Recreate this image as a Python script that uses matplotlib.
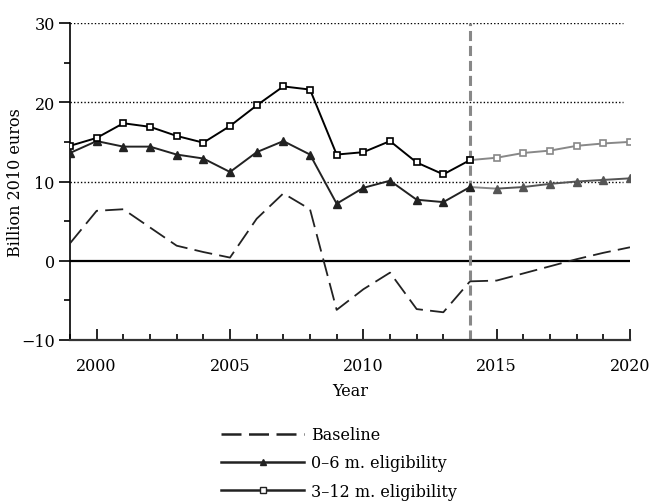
import numpy as np
import matplotlib.pyplot as plt
from matplotlib.lines import Line2D

plt.rcParams['font.family'] = ['DejaVu Serif']
plt.rcParams['font.size'] = 11.5

years = list(range(1999, 2021))
split_year = 2014

baseline = [2.2, 6.3, 6.5, 4.2, 1.9, 1.1, 0.4, 5.3, 8.5, 6.5,
            -6.2, -3.6, -1.5, -6.1, -6.5, -2.6,
            -2.5, -1.6, -0.7, 0.2, 1.0, 1.7]
elig_0_6 = [13.6, 15.1, 14.4, 14.4, 13.4, 12.9, 11.2, 13.7, 15.1, 13.4,
            7.2, 9.2, 10.1, 7.7, 7.4, 9.3,
            9.1, 9.3, 9.7, 10.0, 10.2, 10.4]
elig_3_12 = [14.5, 15.5, 17.35, 16.9, 15.75, 14.9, 17.0, 19.6, 22.0, 21.6,
             13.4, 13.7, 15.1, 12.4, 10.9, 12.7,
             13.0, 13.6, 13.9, 14.5, 14.8, 15.0]
grid_levels = [10, 20, 30]

x = np.array(years)
i0 = years.index(split_year)
past = slice(0, i0 + 1)
fut = slice(i0, None)

fig = plt.figure(figsize=(6.51, 5.02), dpi=100)
ax = fig.add_axes([70/651, 1 - 341/502, 560/651, 317/502])

# gridlines and zero line
ax.hlines(grid_levels, 1999, 2019.75, colors='black', linestyles=(0, (1, 1.5)), lw=1.0, zorder=1)
ax.axhline(0, color='black', lw=1.6, zorder=1)
ax.axvline(split_year, color='#888888', lw=2.2, dashes=(3.3, 1.6), zorder=2)

# baseline
ax.plot(x[past], np.array(baseline)[past], color='#222222', lw=1.3, dashes=(10, 4), zorder=3)
ax.plot(x[fut], np.array(baseline)[fut], color='#222222', lw=1.3, dashes=(10, 4), zorder=3)

# 0-6 m eligibility
ax.plot(x[past], np.array(elig_0_6)[past], color='#222222', lw=1.4, marker='^',
        ms=6, mfc='#222222', mec='#222222', zorder=4)
ax.plot(x[fut][1:], np.array(elig_0_6)[fut][1:], color='#555555', lw=1.4, marker='^',
        ms=6, mfc='#555555', mec='#555555', zorder=4)
ax.plot(x[fut][:2], np.array(elig_0_6)[fut][:2], color='#888888', lw=1.4, zorder=3)

# 3-12 m eligibility
ax.plot(x[fut], np.array(elig_3_12)[fut], color='#888888', lw=1.4, marker='s',
        ms=5, mfc='white', mec='#888888', mew=1.2, zorder=4)
ax.plot(x[past], np.array(elig_3_12)[past], color='black', lw=1.4, marker='s',
        ms=5, mfc='white', mec='black', mew=1.2, zorder=5)

ax.set_xlim(1999, 2020)
ax.set_ylim(-10, 30)
ax.set_xticks([2000, 2005, 2010, 2015, 2020])
ax.set_xticks(range(1999, 2021), minor=True)
ax.set_yticks([-10, 0, 10, 20, 30])
ax.set_yticks([-5, 5, 15, 25], minor=True)
ax.tick_params(axis='x', which='major', direction='in', length=8, width=1.2, pad=12)
ax.tick_params(axis='x', which='minor', direction='in', length=4, width=1.2)
ax.tick_params(axis='y', which='major', direction='out', length=8, width=1.2, pad=3)
ax.tick_params(axis='y', which='minor', direction='out', length=4, width=1.2)
for s in ['top', 'right']:
    ax.spines[s].set_visible(False)
ax.spines['left'].set_linewidth(1.2)
ax.spines['bottom'].set_linewidth(1.6)
ax.spines['bottom'].set_color('#333333')

ax.set_xlabel('Year', labelpad=6)
ax.set_ylabel('Billion 2010 euros')
ax.yaxis.set_label_coords(-0.082, 0.5)

handles = [
    Line2D([], [], color='#222222', lw=1.8, dashes=(8, 3)),
    Line2D([], [], color='#222222', lw=1.8, marker='^', ms=5, markevery=[1]),
    Line2D([], [], color='#222222', lw=1.8, marker='s', ms=5, mfc='white', markevery=[1]),
]
fig.legend(handles, ['Baseline', '0\u20136 m. eligibility', '3\u201312 m. eligibility'],
           loc='center', bbox_to_anchor=(339/651, 1 - 464/502), frameon=False,
           handlelength=5.2, labelspacing=0.7, handletextpad=0.4)

fig.savefig('out.png', dpi=100)
